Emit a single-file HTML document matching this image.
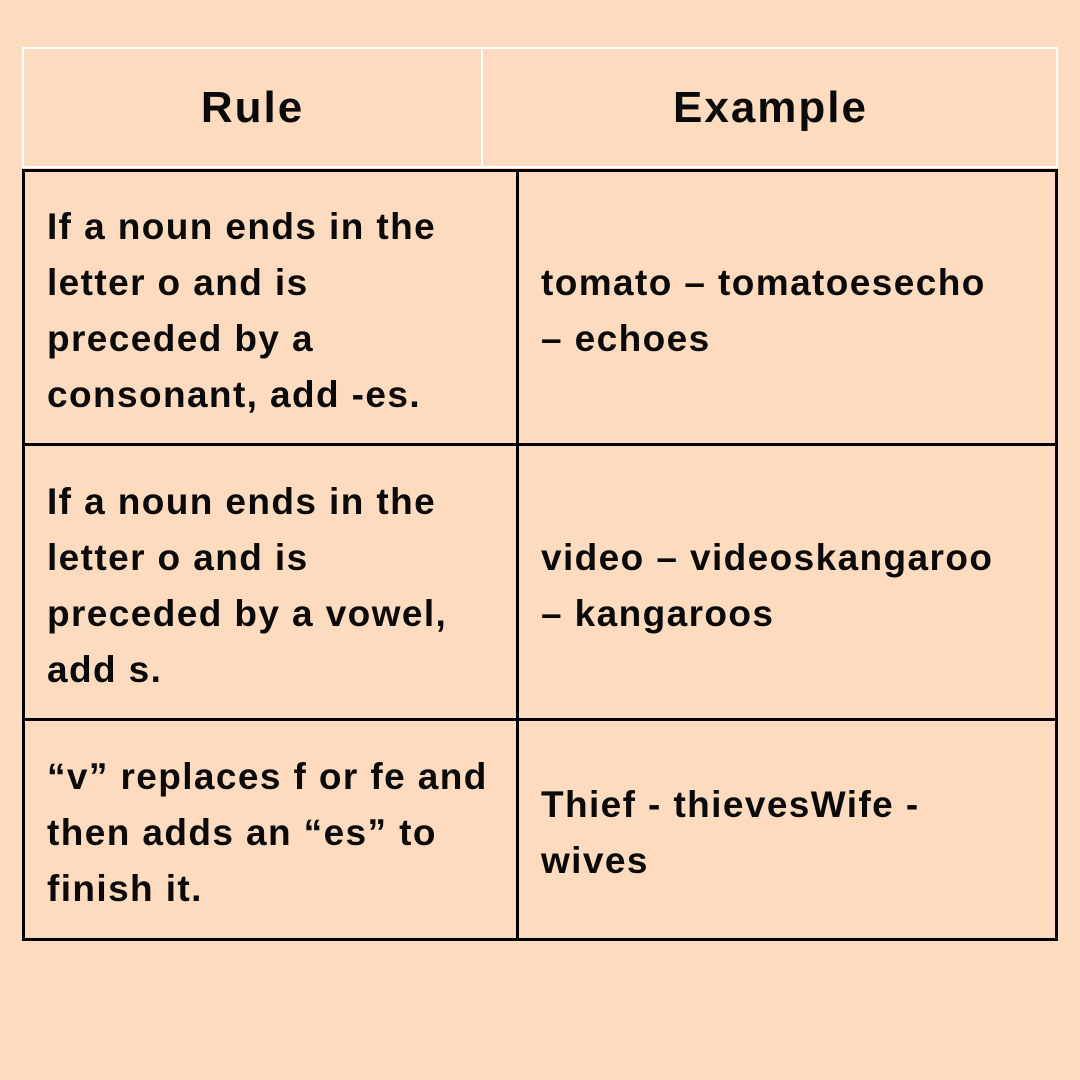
<!DOCTYPE html>
<html><head><style>
body{margin:0;width:1080px;height:1080px;background:#fddbbf;position:relative;overflow:hidden;font-family:"Liberation Sans",sans-serif;font-weight:bold;color:#0a0a0a}
.b{position:absolute;box-sizing:border-box}
.t{position:absolute;font-size:37px;line-height:56px;white-space:nowrap;letter-spacing:1.4px}
.h{position:absolute;font-size:44px;line-height:56px;text-align:center;letter-spacing:2px}
</style></head><body>
<div class="b" style="left:22px;top:47px;width:1036px;height:121px;border:2px solid #fff"></div>
<div class="b" style="left:481px;top:47px;width:2px;height:121px;background:#fff"></div>
<div class="h" style="left:22px;width:461px;top:80px">Rule</div>
<div class="h" style="left:483px;width:575px;top:80px">Example</div>

<div class="b" style="left:22px;top:169px;width:1036px;height:772px;border:3px solid #000"></div>
<div class="b" style="left:516px;top:169px;width:3px;height:772px;background:#000"></div>
<div class="b" style="left:22px;top:443px;width:1036px;height:3px;background:#000"></div>
<div class="b" style="left:22px;top:718px;width:1036px;height:3px;background:#000"></div>

<div class="t" style="left:47px;top:199px">If a noun ends in the<br>letter o and is<br>preceded by a<br>consonant, add -es.</div>
<div class="t" style="left:541px;top:255px">tomato – tomatoesecho<br>– echoes</div>

<div class="t" style="left:47px;top:474px">If a noun ends in the<br>letter o and is<br>preceded by a vowel,<br>add s.</div>
<div class="t" style="left:541px;top:530px">video – videoskangaroo<br>– kangaroos</div>

<div class="t" style="left:47px;top:749px">“v” replaces f or fe and<br>then adds an “es” to<br>finish it.</div>
<div class="t" style="left:541px;top:777px">Thief - thievesWife -<br>wives</div>
</body></html>
